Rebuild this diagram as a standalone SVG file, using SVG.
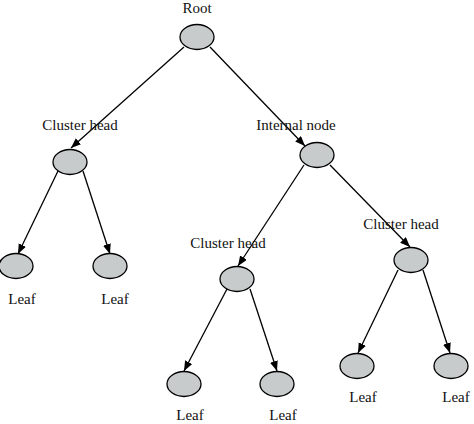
<svg xmlns="http://www.w3.org/2000/svg" width="474" height="424" viewBox="0 0 474 424">
<style>
.n{fill:#c7cbcc;stroke:#000;stroke-width:1.3}
.t{font-family:"Liberation Serif","Times New Roman",serif;font-size:15px;fill:#111;text-anchor:middle}
.e{stroke:#000;stroke-width:1.3;fill:none;marker-end:url(#ah)}
</style>
<defs>
<marker id="ah" markerUnits="userSpaceOnUse" markerWidth="11" markerHeight="9" refX="10" refY="4" orient="auto">
<path d="M0,0 L10,4 L0,8 z" fill="#000"/>
</marker>
</defs>
<rect width="474" height="424" fill="#fff"/>
<g id="connectors">
<line class="e" x1="184" y1="47" x2="71" y2="148"/>
<line class="e" x1="210" y1="47" x2="305" y2="146"/>
<line class="e" x1="58" y1="171" x2="18" y2="254"/>
<line class="e" x1="83" y1="171" x2="110" y2="254"/>
<line class="e" x1="304" y1="165" x2="238" y2="266"/>
<line class="e" x1="330" y1="165" x2="410" y2="247"/>
<line class="e" x1="227" y1="289" x2="184" y2="371"/>
<line class="e" x1="250" y1="289" x2="277" y2="371"/>
<line class="e" x1="398" y1="270" x2="358" y2="353"/>
<line class="e" x1="423" y1="270" x2="450" y2="353"/>
</g>
<g id="root"><ellipse class="n" cx="197" cy="37" rx="17" ry="12.5"/><text class="t" x="197" y="13">Root</text></g>
<g id="cluster1"><ellipse class="n" cx="70" cy="162" rx="17" ry="12.5"/><text class="t" x="80" y="130">Cluster head</text></g>
<g id="internal"><ellipse class="n" cx="317" cy="155" rx="17" ry="12.5"/><text class="t" x="296" y="130">Internal node</text></g>
<g id="leaf1"><ellipse class="n" cx="16" cy="266" rx="17" ry="12.5"/><text class="t" x="22" y="304">Leaf</text></g>
<g id="leaf2"><ellipse class="n" cx="110" cy="266" rx="17" ry="12.5"/><text class="t" x="115" y="304">Leaf</text></g>
<g id="cluster2"><ellipse class="n" cx="237" cy="279" rx="17" ry="12.5"/><text class="t" x="228" y="248">Cluster head</text></g>
<g id="cluster3"><ellipse class="n" cx="411" cy="260" rx="17" ry="12.5"/><text class="t" x="401" y="229">Cluster head</text></g>
<g id="leaf3"><ellipse class="n" cx="184" cy="384" rx="17" ry="12.5"/><text class="t" x="190" y="420">Leaf</text></g>
<g id="leaf4"><ellipse class="n" cx="277" cy="384" rx="17" ry="12.5"/><text class="t" x="283" y="420">Leaf</text></g>
<g id="leaf5"><ellipse class="n" cx="357" cy="366" rx="17" ry="12.5"/><text class="t" x="363" y="402">Leaf</text></g>
<g id="leaf6"><ellipse class="n" cx="451" cy="366" rx="17" ry="12.5"/><text class="t" x="456" y="402">Leaf</text></g>
</svg>
